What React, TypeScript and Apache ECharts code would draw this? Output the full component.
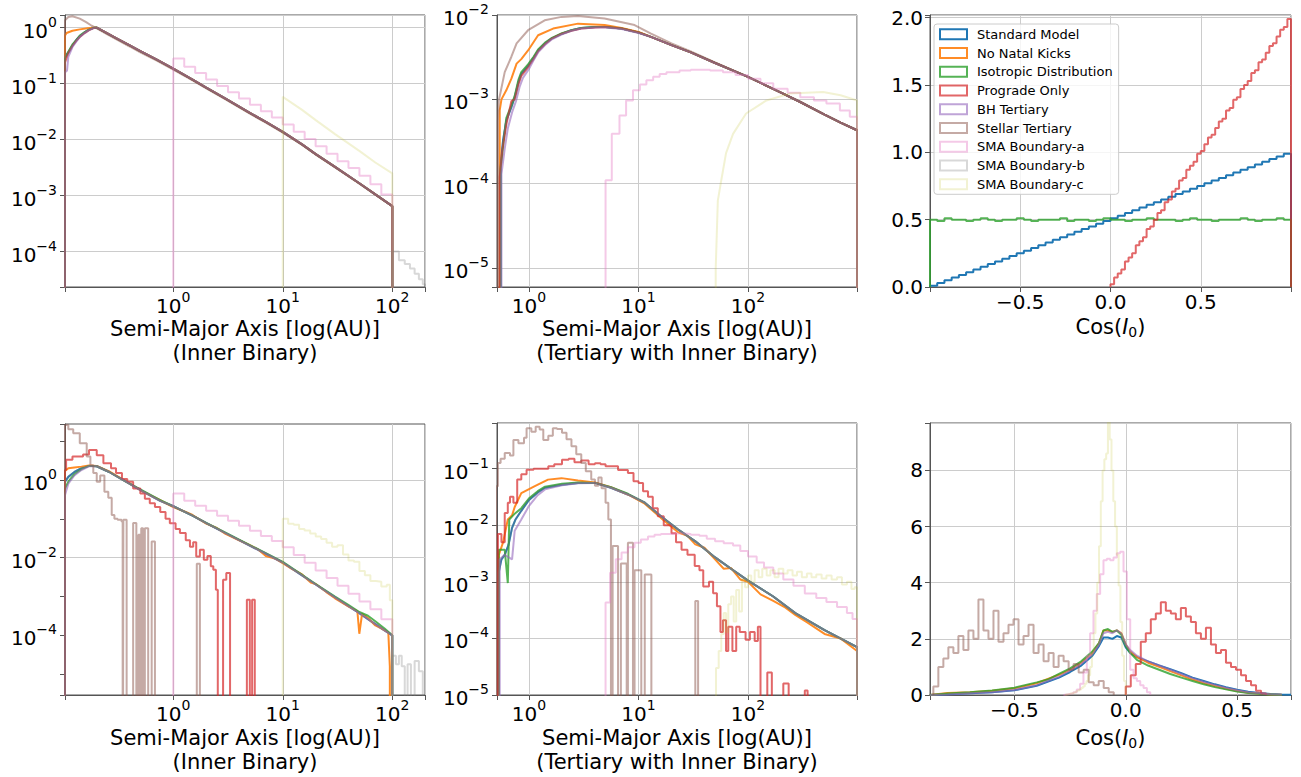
import React, { useEffect, useRef } from 'react';
import * as echarts from 'echarts';

type Pt = [number, number];

const FONT = 'DejaVu Sans';
const FRAME = '#555555';
const GRIDC = '#cccccc';
const Z = 1e-12;

const NAMES = ['Standard Model', 'No Natal Kicks', 'Isotropic Distribution', 'Prograde Only', 'BH Tertiary', 'Stellar Tertiary', 'SMA Boundary-a', 'SMA Boundary-b', 'SMA Boundary-c'];
const COLORS = ['#1f77b4', '#ff7f0e', '#2ca02c', '#d62728', '#9467bd', '#8c564b', '#e377c2', '#7f7f7f', '#bcbd22'];
const ALPHAS = [1, 0.9, 0.8, 0.7, 0.6, 0.5, 0.4, 0.3, 0.2];

const NAME_INNER = 'Semi-Major Axis [log(AU)]\n(Inner Binary)';
const NAME_TERT = 'Semi-Major Axis [log(AU)]\n(Tertiary with Inner Binary)';
const NAME_COS = 'Cos({i|I}{u|0})';

// shared log bin edges (0.1 dex) for SMA Boundary-a inner binary
const decEdges = [1, 1.259, 1.585, 1.995, 2.512, 3.162, 3.981, 5.012, 6.31, 7.943, 10, 12.59, 15.85, 19.95, 25.12, 31.62, 39.81, 50.12, 63.1, 79.43];

// ---------- Panel TL: inner binary SMA (initial) ----------
const tlMainTail: Pt[] = [[0.2, 1.0], [0.25, 0.79], [0.3, 0.65], [0.4, 0.48], [0.5, 0.38], [0.7, 0.27], [1, 0.186], [1.5, 0.118], [2, 0.085], [3, 0.054], [5, 0.030], [7, 0.0207], [10, 0.0137], [15, 0.0082], [20, 0.0055], [30, 0.00325], [50, 0.00166], [70, 0.00105], [100, 0.00065]];
const tlBlueHead: Pt[] = [[0.1026, 0.3], [0.11, 0.36], [0.12, 0.48], [0.13, 0.6], [0.14, 0.7], [0.155, 0.82], [0.17, 0.92], [0.185, 0.98]];
const tlOrangeHead: Pt[] = [[0.1026, 0.72], [0.106, 0.8], [0.12, 0.88], [0.14, 0.93], [0.165, 0.97], [0.185, 0.99]];
const tlGreenHead: Pt[] = [[0.1026, 0.28], [0.11, 0.37], [0.12, 0.5], [0.13, 0.6], [0.14, 0.72], [0.155, 0.83], [0.17, 0.92], [0.185, 0.98]];
const tlRedHead: Pt[] = [[0.1026, 0.24], [0.11, 0.35], [0.12, 0.47], [0.13, 0.58], [0.14, 0.68], [0.155, 0.8], [0.17, 0.9], [0.185, 0.97]];
const tlPurpleHead: Pt[] = [[0.1026, 0.16], [0.107, 0.17], [0.11, 0.3], [0.12, 0.45], [0.13, 0.56], [0.14, 0.68], [0.155, 0.8], [0.17, 0.9], [0.185, 0.97]];
const tlBrown: Pt[] = [[0.1026, 1.35], [0.11, 1.55], [0.12, 1.6], [0.14, 1.45], [0.16, 1.25], [0.18, 1.08], [0.2, 0.97], [0.25, 0.76], [0.3, 0.62], [0.4, 0.46], [0.5, 0.36], [0.7, 0.26], [1, 0.178], [1.5, 0.114], [2, 0.082], [3, 0.052], [5, 0.029], [7, 0.020], [10, 0.0133], [15, 0.008], [20, 0.0054], [30, 0.0032], [50, 0.00163], [70, 0.00104], [100, 0.00065]];
const tlPinkVals = [0.28, 0.20, 0.154, 0.118, 0.091, 0.070, 0.054, 0.042, 0.032, 0.0248, 0.0187, 0.0138, 0.0102, 0.0076, 0.0056, 0.0041, 0.0031, 0.00226, 0.0016, 0.00105];
const tlGreyTail: Pt[] = [[100, 1.0e-4], [115, 7e-5], [130, 6e-5], [145, 5e-5], [160, 4e-5], [175, 3.2e-5], [190, 2.6e-5]];
const tlOlive: Pt[] = [[10, 0.058], [15, 0.034], [20, 0.0223], [30, 0.0125], [50, 0.0063], [70, 0.0039], [100, 0.0025]];

// ---------- Panel TM: tertiary SMA (initial) ----------
const tmTail: Pt[] = [[20, 4.4e-3], [30, 3.6e-3], [50, 2.7e-3], [100, 1.85e-3], [200, 1.2e-3], [300, 9.3e-4], [500, 6.6e-4], [700, 5.3e-4], [990, 4.3e-4]];
const tmBlueHead: Pt[] = [[0.55, 1.65e-4], [0.58, 3.3e-4], [0.62, 5.6e-4], [0.69, 8.1e-4], [0.74, 1.06e-3], [0.8, 1.6e-3], [0.85, 2.0e-3], [0.98, 2.5e-3], [1.1, 3.1e-3], [1.21, 3.8e-3], [1.4, 4.6e-3], [1.6, 5.25e-3], [2.0, 6.0e-3], [2.44, 6.6e-3], [3.0, 7.0e-3], [4.0, 7.2e-3], [5.0, 7.2e-3], [7.0, 6.9e-3], [10, 6.2e-3], [13, 5.5e-3]];
const tmOrangeHead: Pt[] = [[0.54, 7.4e-4], [0.56, 1.0e-3], [0.62, 1.28e-3], [0.69, 1.76e-3], [0.77, 2.65e-3], [0.85, 3.0e-3], [0.98, 3.8e-3], [1.21, 5.75e-3], [1.66, 6.9e-3], [2.8, 7.9e-3], [4.9, 7.6e-3], [7.0, 7.0e-3], [10, 6.3e-3], [13, 5.5e-3]];
const tmGreenHead: Pt[] = [[0.55, 1.5e-4], [0.58, 2.8e-4], [0.62, 6.0e-4], [0.69, 8.5e-4], [0.74, 1.1e-3], [0.8, 1.7e-3], [0.85, 2.1e-3], [0.98, 2.6e-3], [1.1, 3.2e-3], [1.21, 3.9e-3], [1.4, 4.7e-3], [1.6, 5.3e-3], [2.0, 6.1e-3], [2.44, 6.6e-3], [3.0, 7.0e-3], [4.0, 7.2e-3], [5.0, 7.2e-3], [7.0, 6.9e-3], [10, 6.2e-3], [13, 5.5e-3]];
const tmRedHead: Pt[] = [[0.54, 1.2e-4], [0.57, 2.5e-4], [0.62, 5.0e-4], [0.69, 9.5e-4], [0.74, 1.0e-3], [0.8, 1.5e-3], [0.85, 1.9e-3], [0.98, 2.4e-3], [1.1, 3.0e-3], [1.21, 3.7e-3], [1.4, 4.5e-3], [1.6, 5.2e-3], [2.0, 6.0e-3], [2.44, 6.5e-3], [3.0, 6.9e-3], [4.0, 7.1e-3], [5.0, 7.2e-3], [7.0, 6.9e-3], [10, 6.2e-3], [13, 5.5e-3]];
const tmPurpleHead: Pt[] = [[0.56, 1.3e-4], [0.6, 2.6e-4], [0.64, 4.5e-4], [0.7, 7.0e-4], [0.76, 9.5e-4], [0.82, 1.4e-3], [0.88, 1.8e-3], [1.0, 2.3e-3], [1.1, 2.9e-3], [1.21, 3.6e-3], [1.4, 4.4e-3], [1.6, 5.1e-3], [2.0, 5.9e-3], [2.44, 6.5e-3], [3.0, 6.9e-3], [4.0, 7.1e-3], [5.0, 7.1e-3], [7.0, 6.8e-3], [10, 6.1e-3], [13, 5.5e-3]];
const tmBrown: Pt[] = [[0.52, 5.6e-4], [0.53, 9.7e-4], [0.6, 2.1e-3], [0.69, 3.2e-3], [0.77, 4.6e-3], [0.98, 6.6e-3], [1.39, 8.65e-3], [1.98, 9.5e-3], [2.8, 9.7e-3], [4.9, 9.1e-3], [9.2, 7.6e-3], [13, 6.0e-3], [20, 4.6e-3], [30, 3.7e-3], [50, 2.75e-3], [100, 1.85e-3], [200, 1.2e-3], [300, 9.3e-4], [500, 6.6e-4], [700, 5.3e-4], [990, 4.3e-4]];
const tmPink: Pt[] = [[5.0, 1.1e-4], [5.7, 3.9e-4], [6.7, 6.45e-4], [7.7, 9.7e-4], [8.9, 1.28e-3], [10.3, 1.5e-3], [11.8, 1.68e-3], [13.6, 1.85e-3], [15.6, 2.0e-3], [18, 2.1e-3], [23.7, 2.2e-3], [30, 2.25e-3], [36, 2.25e-3], [45, 2.2e-3], [59, 2.1e-3], [77, 1.95e-3], [100, 1.76e-3], [130, 1.55e-3], [170, 1.34e-3], [230, 1.2e-3], [300, 1.06e-3], [400, 9.7e-4], [520, 8.9e-4], [690, 7.4e-4], [850, 6.2e-4]];
const tmOlive: Pt[] = [[50.7, 1e-5], [53, 6.3e-5], [57, 1.1e-4], [63, 2.3e-4], [73, 3.9e-4], [96, 6.8e-4], [147, 9.7e-4], [240, 1.17e-3], [485, 1.22e-3], [700, 1.12e-3], [990, 9.7e-4]];

// ---------- Panel TR: cos(I0) initial ----------
const trBlue = [0.01, 0.03, 0.05, 0.07, 0.09, 0.11, 0.13, 0.15, 0.17, 0.19, 0.21, 0.23, 0.25, 0.27, 0.29, 0.31, 0.33, 0.35, 0.37, 0.39, 0.41, 0.43, 0.45, 0.47, 0.49, 0.51, 0.53, 0.55, 0.57, 0.59, 0.61, 0.63, 0.65, 0.67, 0.69, 0.71, 0.73, 0.75, 0.77, 0.79, 0.81, 0.83, 0.85, 0.87, 0.89, 0.91, 0.93, 0.95, 0.97, 0.99];
const trGreen = [0.5, 0.49, 0.51, 0.5, 0.5, 0.49, 0.5, 0.51, 0.5, 0.49, 0.5, 0.5, 0.51, 0.5, 0.49, 0.5, 0.5, 0.5, 0.51, 0.49, 0.5, 0.5, 0.49, 0.5, 0.51, 0.5, 0.5, 0.49, 0.5, 0.5, 0.51, 0.5, 0.5, 0.5, 0.49, 0.5, 0.51, 0.5, 0.5, 0.49, 0.5, 0.5, 0.5, 0.51, 0.5, 0.49, 0.5, 0.5, 0.51, 0.5];
const trRed = [0.02, 0.07, 0.1, 0.13, 0.19, 0.22, 0.25, 0.31, 0.34, 0.37, 0.43, 0.45, 0.5, 0.55, 0.57, 0.63, 0.65, 0.71, 0.73, 0.79, 0.81, 0.87, 0.9, 0.93, 0.99, 1.01, 1.06, 1.11, 1.13, 1.18, 1.23, 1.25, 1.31, 1.33, 1.39, 1.41, 1.47, 1.5, 1.53, 1.59, 1.61, 1.67, 1.69, 1.74, 1.79, 1.81, 1.86, 1.91, 1.93, 1.99];

// ---------- Panel BL: inner binary SMA (final) ----------
const blTail: Pt[] = [[0.2, 2.25], [0.26, 1.6], [0.37, 0.9], [0.53, 0.5], [0.76, 0.29], [1.0, 0.21], [1.5, 0.12], [2, 0.077], [3, 0.043], [5, 0.0204], [7, 0.0126], [10, 0.0075], [15, 0.0035], [20, 0.00204], [30, 9.5e-4], [50, 3.7e-4], [70, 1.95e-4], [85, 1.35e-4], [100, 1.0e-4]];
const blBlueHead: Pt[] = [[0.1026, 0.9], [0.11, 1.2], [0.125, 1.6], [0.145, 2.0], [0.17, 2.3]];
const blOrangeHead: Pt[] = [[0.1026, 1.7], [0.11, 2.0], [0.125, 2.1], [0.145, 2.2], [0.17, 2.35]];
const blOrangeTail: Pt[] = [[0.2, 2.3], [0.26, 1.65], [0.37, 0.92], [0.53, 0.5], [0.76, 0.3], [1.0, 0.2], [1.3, 0.15], [1.5, 0.125], [2, 0.075], [2.5, 0.058], [3, 0.041], [4, 0.028], [5, 0.021], [6, 0.016], [7, 0.011], [8.5, 0.0095], [10, 0.0072], [12, 0.0052], [15, 0.0037], [18, 0.0023], [20, 0.0021], [25, 0.0013], [30, 9.0e-4], [40, 5.5e-4], [48, 4.2e-4], [50, 1.1e-4], [53, 3.6e-4], [60, 2.8e-4], [70, 1.8e-4], [80, 1.5e-4], [92, 1.2e-4], [95, 1.6e-5]];
const blGreenHead: Pt[] = [[0.1026, 0.6], [0.11, 0.9], [0.125, 1.4], [0.145, 1.9], [0.17, 2.3]];
const blGreenTail: Pt[] = [[0.2, 2.25], [0.26, 1.6], [0.37, 0.9], [0.53, 0.52], [0.76, 0.3], [1.0, 0.21], [1.5, 0.12], [2, 0.078], [3, 0.044], [5, 0.021], [7, 0.013], [10, 0.0078], [15, 0.0036], [20, 0.0021], [30, 1.0e-3], [40, 6.0e-4], [50, 4.0e-4], [60, 3.2e-4], [70, 2.3e-4], [85, 1.5e-4], [100, 1.0e-4]];
const blPurpleHead: Pt[] = [[0.1026, 0.41], [0.11, 0.8], [0.125, 1.3], [0.145, 1.8], [0.17, 2.25]];
const blRed: Pt[] = [[0.1026, 1.8], [0.105, 3.3], [0.12, 4.0], [0.15, 4.5], [0.17, 5.9], [0.2, 4.3], [0.23, 2.7], [0.27, 2.0], [0.3, 1.5], [0.34, 1.05], [0.38, 0.9], [0.43, 0.6], [0.5, 0.45], [0.55, 0.33], [0.61, 0.25], [0.68, 0.2], [0.76, 0.15], [0.85, 0.1], [0.93, 0.077], [1.05, 0.055], [1.15, 0.043], [1.3, 0.028], [1.42, 0.019], [1.52, 0.025], [1.62, 0.0107], [1.75, 0.016], [1.9, 0.0088], [2.05, 0.011], [2.2, 0.006], [2.32, 0.0049], [2.45, 0.0015], [2.55, Z], [2.85, 2.7e-3], [3.05, 4.0e-3], [3.3, Z], [4.7, 8.3e-4], [5.0, Z], [5.25, 8.3e-4]];
const blBrown: Pt[] = [[0.1026, 26], [0.11, 20], [0.122, 15.9], [0.14, 8.8], [0.162, 4.0], [0.175, 2.4], [0.186, 1.5], [0.2, 0.9], [0.215, 1.3], [0.235, 0.5], [0.255, 0.35], [0.274, 0.126], [0.29, 0.1], [0.31, 0.094], [0.337, 0.085], [0.345, Z], [0.35, 0.094], [0.375, Z], [0.43, 0.078], [0.46, Z], [0.48, 0.039], [0.5, Z], [0.51, 0.057], [0.53, Z], [0.55, 0.057], [0.59, Z], [0.635, 0.026], [0.68, Z], [1.64, 0.007]];
const blPinkVals = [0.45, 0.29, 0.216, 0.16, 0.119, 0.0885, 0.0658, 0.0489, 0.0363, 0.027, 0.0186, 0.0117, 0.0074, 0.0047, 0.0030, 0.0019, 0.00117, 7.4e-4, 4.7e-4, 2.6e-4];
const blGreyTail: Pt[] = [[100, 3e-5], [108, 1.8e-5], [115, 3e-5], [122, 1.6e-5], [130, Z], [138, 1.8e-5], [148, Z], [160, 2.2e-5], [175, 1.2e-5], [190, Z]];
const blOlive: Pt[] = [[10, 0.1], [11.2, 0.075], [12.6, 0.07], [14.1, 0.055], [15.8, 0.05], [17.8, 0.042], [20, 0.035], [22.4, 0.03], [25.1, 0.024], [28.2, 0.019], [31.6, 0.021], [35.5, 0.012], [39.8, 0.0085], [44.7, 0.0078], [50.1, 0.0045], [56.2, 0.0035], [63.1, 0.0025], [70.8, 0.0024], [79.4, 0.0018], [89.1, 0.002], [95, 8e-4]];
const blGridVals = [1, 0.01, 0.0001];

// ---------- Panel BM: tertiary SMA (final) ----------
const bmTail: Pt[] = [[11.4, 0.025], [16, 0.0144], [23, 8.4e-3], [33, 5.2e-3], [50, 2.7e-3], [70, 1.7e-3], [100, 1.05e-3], [170, 5.5e-4], [270, 2.8e-4], [500, 1.4e-4], [990, 7e-5]];
const bmBlueHead: Pt[] = [[0.53, 1.5e-3], [0.56, 2.5e-3], [0.6, 3e-3], [0.65, 4.5e-3], [0.7, 9e-3], [0.75, 0.0125], [0.85, 0.018], [1.0, 0.028], [1.2, 0.038], [1.4, 0.046], [2.0, 0.052], [2.8, 0.056], [4.0, 0.056], [5.6, 0.046], [8.0, 0.035]];
const bmOrangeHead: Pt[] = [[0.53, 3e-3], [0.58, 5e-3], [0.64, 0.0126], [0.7, 0.015], [0.74, 0.021], [0.85, 0.037], [1.13, 0.049], [1.49, 0.064], [1.98, 0.068], [2.8, 0.062], [4.0, 0.057], [5.6, 0.047], [8.0, 0.035]];
const bmOrangeTail: Pt[] = [[11.4, 0.024], [16, 0.0135], [23, 7.5e-3], [28, 6.5e-3], [33, 4.6e-3], [40, 4.0e-3], [50, 2.5e-3], [60, 1.7e-3], [70, 1.75e-3], [85, 1.1e-3], [100, 1.0e-3], [130, 6.0e-4], [170, 4.6e-4], [220, 3.5e-4], [270, 2.6e-4], [350, 1.9e-4], [500, 1.2e-4], [700, 1.0e-4], [990, 6e-5]];
const bmGreenHead: Pt[] = [[0.53, 3.7e-3], [0.6, 3.7e-3], [0.64, 9.5e-4], [0.66, 0.0126], [0.74, 0.016], [0.85, 0.02], [1.0, 0.03], [1.2, 0.04], [1.4, 0.048], [2.0, 0.054], [2.8, 0.057], [4.0, 0.056], [5.6, 0.047], [8.0, 0.036]];
const bmPurpleHead: Pt[] = [[0.54, 2.5e-3], [0.6, 3e-3], [0.7, 2.5e-3], [0.74, 8e-3], [0.85, 0.0126], [1.0, 0.022], [1.2, 0.034], [1.4, 0.043], [2.0, 0.051], [2.8, 0.055], [4.0, 0.056], [5.6, 0.046], [8.0, 0.035]];
const bmRed: Pt[] = [[0.52, 7e-3], [0.56, 5e-3], [0.6, 0.0165], [0.64, 0.025], [0.67, 0.032], [0.72, 0.025], [0.78, 0.064], [0.85, 0.08], [0.95, 0.096], [1.1, 0.1], [1.3, 0.1], [1.5, 0.11], [1.7, 0.12], [2.0, 0.144], [2.3, 0.15], [2.6, 0.13], [3.0, 0.14], [3.5, 0.12], [4.0, 0.125], [4.5, 0.12], [5.0, 0.11], [5.6, 0.11], [6.5, 0.095], [8.0, 0.084], [9.0, 0.06], [10, 0.056], [11, 0.04], [12.2, 0.032], [13.5, 0.02], [15, 0.0144], [17, 0.01], [20, 7.2e-3], [22, 5e-3], [24.7, 3.7e-3], [28, 3.0e-3], [32.6, 1.9e-3], [36, 1.6e-3], [39, 8.3e-4], [44, 1.0e-3], [48, 6.3e-4], [52, 3.7e-4], [56, 1.3e-4], [59, 2.1e-4], [63, 6e-5], [66, 1.6e-4], [72, 6e-5], [78, 1.6e-4], [84, 1.3e-4], [95, 9.5e-5], [104, 1.3e-4], [115, 9e-5], [123, 1.6e-4], [130, Z], [150, 2.5e-5], [165, Z], [210, 1.6e-5], [235, Z], [330, 1.2e-5]];
const bmBrown: Pt[] = [[0.5, 0.049], [0.52, 0.126], [0.55, 0.15], [0.6, 0.19], [0.67, 0.17], [0.72, 0.32], [0.8, 0.28], [0.9, 0.35], [0.95, 0.52], [1.05, 0.45], [1.15, 0.55], [1.25, 0.49], [1.35, 0.32], [1.5, 0.38], [1.65, 0.52], [1.8, 0.5], [2.0, 0.43], [2.2, 0.33], [2.44, 0.25], [2.7, 0.18], [3.0, 0.126], [3.3, 0.09], [3.7, 0.064], [4.0, 0.05], [4.3, 0.07], [4.6, 0.045], [5.0, 0.025], [5.3, 0.0126], [5.6, Z], [5.8, 4.3e-3], [6.5, Z], [6.9, 2.1e-3], [7.8, Z], [8.0, 4.9e-3], [8.9, Z], [9.2, 1.6e-3], [10.6, Z], [11.4, 1.35e-3], [13.1, Z], [33, 4.6e-4]];
const bmPink: Pt[] = [[5.0, 4.3e-4], [5.5, 1.45e-3], [6.2, 2.5e-3], [7.0, 3.3e-3], [8.0, 4.1e-3], [9.2, 4.9e-3], [10.5, 5.6e-3], [12.2, 6.3e-3], [14, 6.8e-3], [16, 7.0e-3], [20, 7.2e-3], [25, 7.0e-3], [30, 6.8e-3], [36, 6.5e-3], [42, 5.8e-3], [50, 5.2e-3], [60, 4.8e-3], [73, 4.4e-3], [85, 3.5e-3], [100, 2.8e-3], [120, 2.2e-3], [140, 1.8e-3], [170, 1.4e-3], [210, 1.1e-3], [260, 8.5e-4], [330, 6.2e-4], [420, 5.2e-4], [520, 4.4e-4], [650, 3.6e-4], [800, 2.8e-4], [900, 2.2e-4]];
const bmOlive: Pt[] = [[51, 3e-5], [54, 6e-5], [57, 1.2e-4], [60, 2.8e-4], [63, 1.3e-4], [66, 4e-4], [70, 5.5e-4], [74, 2e-4], [78, 7.2e-4], [83, 3e-4], [88, 1.1e-3], [94, 8e-4], [100, 1.3e-3], [107, 1.0e-3], [115, 1.6e-3], [125, 1.2e-3], [135, 1.7e-3], [148, 1.3e-3], [160, 1.6e-3], [175, 1.2e-3], [190, 1.7e-3], [210, 1.4e-3], [230, 1.6e-3], [255, 1.3e-3], [280, 1.5e-3], [310, 1.2e-3], [345, 1.4e-3], [380, 1.2e-3], [420, 1.35e-3], [470, 1.15e-3], [520, 1.3e-3], [580, 1.1e-3], [650, 1.2e-3], [720, 9e-4], [800, 1.0e-3], [880, 7.5e-4], [940, 8e-4]];

// ---------- Panel BR: cos(I0) final ----------
const brBlue: Pt[] = [[-0.88, 0], [-0.8, 0.03], [-0.7, 0.06], [-0.6, 0.1], [-0.5, 0.17], [-0.4, 0.33], [-0.3, 0.62], [-0.25, 0.82], [-0.2, 1.05], [-0.15, 1.4], [-0.12, 1.75], [-0.1, 2.05], [-0.08, 2.05], [-0.06, 2.0], [-0.04, 2.1], [-0.02, 2.05], [0.0, 1.7], [0.02, 1.5], [0.05, 1.35], [0.1, 1.2], [0.15, 1.05], [0.2, 0.92], [0.25, 0.78], [0.3, 0.62], [0.35, 0.5], [0.4, 0.38], [0.45, 0.28], [0.5, 0.19], [0.55, 0.12], [0.6, 0.07], [0.65, 0.04], [0.7, 0.02], [0.742, 0.01]];
const brOrange: Pt[] = [[-0.88, 0.02], [-0.8, 0.07], [-0.7, 0.1], [-0.6, 0.15], [-0.5, 0.24], [-0.4, 0.42], [-0.3, 0.72], [-0.25, 0.9], [-0.2, 1.15], [-0.15, 1.5], [-0.12, 1.85], [-0.1, 2.3], [-0.08, 2.3], [-0.06, 2.25], [-0.04, 2.3], [-0.02, 2.2], [0.0, 1.8], [0.02, 1.55], [0.05, 1.35], [0.1, 1.15], [0.15, 1.0], [0.2, 0.85], [0.25, 0.7], [0.3, 0.55], [0.35, 0.42], [0.4, 0.32], [0.45, 0.22], [0.5, 0.14], [0.55, 0.08], [0.6, 0.05], [0.65, 0.02], [0.7, 0.01]];
const brGreen: Pt[] = [[-0.88, 0.01], [-0.8, 0.05], [-0.7, 0.1], [-0.6, 0.16], [-0.5, 0.26], [-0.4, 0.45], [-0.35, 0.55], [-0.3, 0.75], [-0.25, 0.95], [-0.2, 1.2], [-0.15, 1.55], [-0.12, 1.85], [-0.1, 2.3], [-0.08, 2.35], [-0.06, 2.25], [-0.04, 2.3], [-0.02, 2.15], [0.0, 1.75], [0.02, 1.5], [0.05, 1.25], [0.1, 1.05], [0.15, 0.9], [0.2, 0.75], [0.25, 0.62], [0.3, 0.5], [0.35, 0.38], [0.4, 0.28], [0.45, 0.2], [0.5, 0.12], [0.55, 0.07], [0.6, 0.04], [0.65, 0.02], [0.7, 0.0]];
const brPurple: Pt[] = [[-0.88, 0], [-0.8, 0.02], [-0.7, 0.06], [-0.6, 0.1], [-0.5, 0.18], [-0.4, 0.35], [-0.3, 0.65], [-0.2, 1.1], [-0.15, 1.45], [-0.12, 1.8], [-0.1, 2.2], [-0.08, 2.25], [-0.06, 2.2], [-0.04, 2.3], [-0.02, 2.2], [0.0, 1.8], [0.02, 1.6], [0.05, 1.4], [0.1, 1.2], [0.15, 1.05], [0.2, 0.9], [0.25, 0.75], [0.3, 0.6], [0.35, 0.47], [0.4, 0.36], [0.45, 0.26], [0.5, 0.17], [0.55, 0.1], [0.6, 0.06], [0.65, 0.03], [0.7, 0.01]];
const brRed = [0.3, 0.7, 1.1, 1.9, 2.2, 2.7, 2.9, 3.3, 3.0, 2.9, 2.7, 3.1, 2.8, 2.6, 2.2, 2.0, 2.4, 1.8, 1.5, 1.6, 1.15, 1.0, 0.9, 0.7, 0.5, 0.35, 0.15, 0.05];
const brBrown = [0.3, 1.0, 1.3, 1.7, 1.5, 2.1, 1.6, 2.3, 2.0, 3.4, 2.3, 2.0, 3.0, 1.9, 2.2, 2.5, 2.7, 1.8, 2.1, 2.5, 1.5, 1.8, 1.2, 1.5, 1.0, 1.4, 1.2, 0.9, 1.1, 0.8, 0.9, 0.45, 0.35, 0.5, 0.25, 0.1];
const brPink = [0.02, 0.04, 0.06, 0.1, 0.2, 0.4, 0.8, 1.4, 2.2, 3.0, 3.6, 4.3, 4.8, 4.85, 4.8, 4.9, 5.05, 5.1, 4.4, 2.7, 0.9, 0.6, 0.5, 0.35, 0.25, 0.1];
const brOlive = [0.02, 0.03, 0.05, 0.06, 0.08, 0.1, 0.13, 0.16, 0.2, 0.25, 0.3, 0.4, 0.5, 0.7, 1.0, 1.5, 2.2, 2.9, 4.0, 5.3, 6.9, 8.0, 8.4, 8.6, 9.8, 9.1, 8.0, 6.9, 6.0, 5.0, 3.9, 2.6, 1.4, 0.5];

// ---------- helpers ----------
function rgba(i: number) {
  const h = COLORS[i];
  const r = parseInt(h.slice(1, 3), 16), g = parseInt(h.slice(3, 5), 16), b = parseInt(h.slice(5, 7), 16);
  return `rgba(${r},${g},${b},${ALPHAS[i]})`;
}
function curve(pts: Pt[], zero: number): Pt[] {
  return [[pts[0][0], zero], ...pts, [pts[pts.length - 1][0], zero]];
}
function steps(pts: Pt[], end: number, zero: number): Pt[] {
  return [[pts[0][0], zero], ...pts, [end, zero]];
}
function edgeSteps(edges: number[], vals: number[], end: number, zero: number): Pt[] {
  return steps(edges.map((e, i) => [e, vals[i]] as Pt), end, zero);
}
function binSteps(start: number, width: number, vals: number[]): Pt[] {
  const pts = vals.map((v, i) => [start + i * width, v] as Pt);
  return steps(pts, start + vals.length * width, 0);
}
function S(idx: number, grid: number, data: Pt[], step = false) {
  const c = rgba(idx);
  return {
    type: 'line', name: NAMES[idx], xAxisIndex: grid, yAxisIndex: grid, data,
    step: step ? 'end' : false, showSymbol: false, symbol: 'none', silent: true,
    lineStyle: { color: c, width: 2 }, itemStyle: { color: c },
    emphasis: { disabled: true }, animation: false,
  };
}

const SUP_RICH = {
  b: { fontSize: 20, fontFamily: FONT, color: '#000', lineHeight: 26, verticalAlign: 'bottom' },
  s: { fontSize: 14, fontFamily: FONT, color: '#000', lineHeight: 14, verticalAlign: 'top' },
};
const NAME_STYLE = { fontSize: 21, fontFamily: FONT, color: '#000', lineHeight: 24 };
const COS_STYLE = {
  ...NAME_STYLE,
  rich: {
    i: { fontSize: 21, fontFamily: FONT, fontStyle: 'italic', color: '#000', lineHeight: 24 },
    u: { fontSize: 14, fontFamily: FONT, color: '#000', lineHeight: 14, verticalAlign: 'bottom' },
  },
};

function logLabel(every: number) {
  return (v: number) => {
    const e = Math.log10(v);
    const r = Math.round(e);
    if (Math.abs(e - r) > 1e-6) return '';
    if (r % every !== 0) return '';
    return `{b|10}{s|${r < 0 ? '\u2212' : ''}${Math.abs(r)}}`;
  };
}
function linLabel(step: number, decimals: number, lo: number, hi: number) {
  return (v: number) => {
    const k = v / step;
    if (Math.abs(k - Math.round(k)) > 1e-6) return '';
    if (v < lo - 1e-9 || v > hi + 1e-9) return '';
    return (v < -1e-9 ? '\u2212' : '') + Math.abs(v).toFixed(decimals);
  };
}
function baseAxis(grid: number) {
  return {
    gridIndex: grid,
    axisLine: { show: true, onZero: false, lineStyle: { color: FRAME, width: 1 } },
    axisTick: { show: true, length: 5, lineStyle: { color: FRAME, width: 1 } },
    splitLine: { show: true, lineStyle: { color: GRIDC, width: 1 } },
    minorTick: { show: false },
    minorSplitLine: { show: false },
  };
}
function logX(grid: number, min: number, max: number, name: string, gap: number) {
  return {
    ...baseAxis(grid), type: 'log', logBase: 10, min, max,
    name, nameLocation: 'middle', nameGap: gap, nameTextStyle: NAME_STYLE,
    axisLabel: { formatter: logLabel(1), rich: SUP_RICH, margin: 3, color: '#000', fontSize: 20, fontFamily: FONT },
  };
}
function logY(grid: number, min: number, max: number, every: number) {
  return {
    ...baseAxis(grid), type: 'log', logBase: 10, min, max,
    axisLabel: { formatter: logLabel(every), rich: SUP_RICH, margin: 8, color: '#000', fontSize: 20, fontFamily: FONT },
  };
}
function linX(grid: number, min: number, max: number, split: number, fmt: (v: number) => string, gap: number) {
  return {
    ...baseAxis(grid), type: 'value', min, max, splitNumber: split,
    name: NAME_COS, nameLocation: 'middle', nameGap: gap, nameTextStyle: COS_STYLE,
    axisLabel: { formatter: fmt, margin: 5, color: '#000', fontSize: 20, fontFamily: FONT },
  };
}
function linY(grid: number, min: number, max: number, split: number, fmt: (v: number) => string) {
  return {
    ...baseAxis(grid), type: 'value', min, max, splitNumber: split,
    axisLabel: { formatter: fmt, margin: 7, color: '#000', fontSize: 20, fontFamily: FONT },
  };
}

function buildOption() {
  const grids = [
    { left: 65, top: 15, width: 360, height: 272 },
    { left: 497, top: 15, width: 360, height: 272 },
    { left: 930, top: 15, width: 361, height: 272 },
    { left: 65, top: 424, width: 360, height: 271 },
    { left: 497, top: 423, width: 360, height: 272 },
    { left: 930, top: 423, width: 361, height: 272 },
  ].map((g) => ({ ...g, show: true, borderColor: FRAME, borderWidth: 1, backgroundColor: 'transparent', containLabel: false, outerBoundsMode: 'none' }));

  const blY: any = logY(3, 2.92e-6, 27.5, 2);
  blY.splitLine = { show: false };

  const xAxis = [
    logX(0, 0.1026, 199, NAME_INNER, 28),
    logX(1, 0.51, 989, NAME_TERT, 28),
    linX(2, -1, 1, 4, linLabel(0.5, 1, -0.5, 0.5), 28),
    logX(3, 0.1026, 199, NAME_INNER, 31),
    logX(4, 0.51, 989, NAME_TERT, 31),
    linX(5, -0.879, 0.742, 3, linLabel(0.5, 1, -0.5, 0.5), 31),
  ];
  const yAxis = [
    logY(0, 2.33e-5, 1.68, 1),
    logY(1, 5.96e-6, 0.01, 1),
    linY(2, 0, 2.02, 4, linLabel(0.5, 1, 0, 2)),
    blY,
    logY(4, 1e-5, 0.641, 1),
    linY(5, 0, 9.69, 5, linLabel(2, 0, 0, 8)),
  ];

  const blueTL = [...tlBlueHead, ...tlMainTail];
  const blueTM = [...tmBlueHead, ...tmTail];
  const blueBL = [...blBlueHead, ...blTail];
  const blueBM = [...bmBlueHead, ...bmTail];

  const series: any[] = [
    // TL
    S(0, 0, curve(blueTL, Z)),
    S(1, 0, curve([...tlOrangeHead, ...tlMainTail], Z)),
    S(2, 0, curve([...tlGreenHead, ...tlMainTail], Z)),
    S(3, 0, curve([...tlRedHead, ...tlMainTail], Z)),
    S(4, 0, curve([...tlPurpleHead, ...tlMainTail], Z)),
    S(5, 0, curve(tlBrown, Z)),
    S(6, 0, edgeSteps(decEdges, tlPinkVals, 100, Z), true),
    S(7, 0, curve(blueTL, Z)),
    S(7, 0, steps(tlGreyTail, 199, Z), true),
    S(8, 0, curve(tlOlive, Z)),
    // TM
    S(0, 1, curve(blueTM, Z)),
    S(1, 1, curve([...tmOrangeHead, ...tmTail], Z)),
    S(2, 1, curve([...tmGreenHead, ...tmTail], Z)),
    S(3, 1, curve([...tmRedHead, ...tmTail], Z)),
    S(4, 1, curve([...tmPurpleHead, ...tmTail], Z)),
    S(5, 1, curve(tmBrown, Z)),
    S(6, 1, steps(tmPink, 990, Z), true),
    S(7, 1, curve(blueTM, Z)),
    S(8, 1, curve(tmOlive, Z)),
    // TR
    S(0, 2, binSteps(-1, 0.04, trBlue), true),
    S(2, 2, binSteps(-1, 0.04, trGreen), true),
    S(3, 2, binSteps(0, 0.02, trRed), true),
    // BL
    {
      type: 'line', xAxisIndex: 3, yAxisIndex: 3, data: [], silent: true, z: 1, symbol: 'none',
      markLine: {
        silent: true, symbol: ['none', 'none'], z: 1, label: { show: false }, animation: false,
        lineStyle: { color: GRIDC, type: 'solid', width: 1 }, emphasis: { disabled: true },
        data: blGridVals.map((v) => ({ yAxis: v })),
      },
    },
    S(0, 3, curve(blueBL, Z)),
    S(1, 3, curve([...blOrangeHead, ...blOrangeTail], Z)),
    S(2, 3, curve([...blGreenHead, ...blGreenTail], Z)),
    S(3, 3, steps(blRed, 5.55, Z), true),
    S(4, 3, curve([...blPurpleHead, ...blTail], Z)),
    S(5, 3, steps(blBrown, 1.75, Z), true),
    S(6, 3, edgeSteps(decEdges, blPinkVals, 100, Z), true),
    S(7, 3, curve(blueBL, Z)),
    S(7, 3, steps(blGreyTail, 199, Z), true),
    S(8, 3, steps(blOlive, 100, Z), true),
    // BM
    S(0, 4, curve(blueBM, Z)),
    S(1, 4, curve([...bmOrangeHead, ...bmOrangeTail], Z)),
    S(2, 4, curve([...bmGreenHead, ...bmTail], Z)),
    S(3, 4, steps(bmRed, 350, Z), true),
    S(4, 4, curve([...bmPurpleHead, ...bmTail], Z)),
    S(5, 4, steps(bmBrown, 35, Z), true),
    S(6, 4, steps(bmPink, 990, Z), true),
    S(7, 4, curve(blueBM, Z)),
    S(8, 4, steps(bmOlive, 990, Z), true),
    // BR
    S(0, 5, curve(brBlue, 0)),
    S(1, 5, curve(brOrange, 0)),
    S(2, 5, curve(brGreen, 0)),
    S(3, 5, binSteps(0, 0.0225, brRed), true),
    S(4, 5, curve(brPurple, 0)),
    S(5, 5, binSteps(-0.864, 0.0225, brBrown), true),
    S(6, 5, binSteps(-0.28, 0.015, brPink), true),
    S(8, 5, binSteps(-0.272, 0.008, brOlive), true),
  ];

  return {
    animation: false,
    backgroundColor: '#ffffff',
    textStyle: { fontFamily: FONT },
    grid: grids,
    xAxis,
    yAxis,
    legend: {
      show: true, orient: 'vertical', left: 934, top: 24,
      padding: [3.3, 6, 3, 5], itemWidth: 27, itemHeight: 10, itemGap: 4.75,
      backgroundColor: 'rgba(255,255,255,0.8)', borderColor: '#cccccc', borderWidth: 1, borderRadius: 3,
      selectedMode: false,
      textStyle: { fontSize: 13, fontFamily: FONT, color: '#000', lineHeight: 14, padding: [0, 0, 0, 5] },
      data: NAMES.map((n, i) => ({
        name: n, icon: 'rect',
        itemStyle: { color: 'rgba(255,255,255,0)', borderColor: rgba(i), borderWidth: 2 },
      })),
    },
    series,
  };
}

export default function App() {
  const ref = useRef<HTMLDivElement>(null);
  useEffect(() => {
    if (!ref.current) return;
    const chart = echarts.init(ref.current, null, { renderer: 'svg', width: 1301, height: 777 });
    chart.setOption(buildOption() as any);
    return () => chart.dispose();
  }, []);
  return <div ref={ref} style={{ position: 'absolute', left: 0, top: 0, width: 1301, height: 777, background: '#fff' }} />;
}
